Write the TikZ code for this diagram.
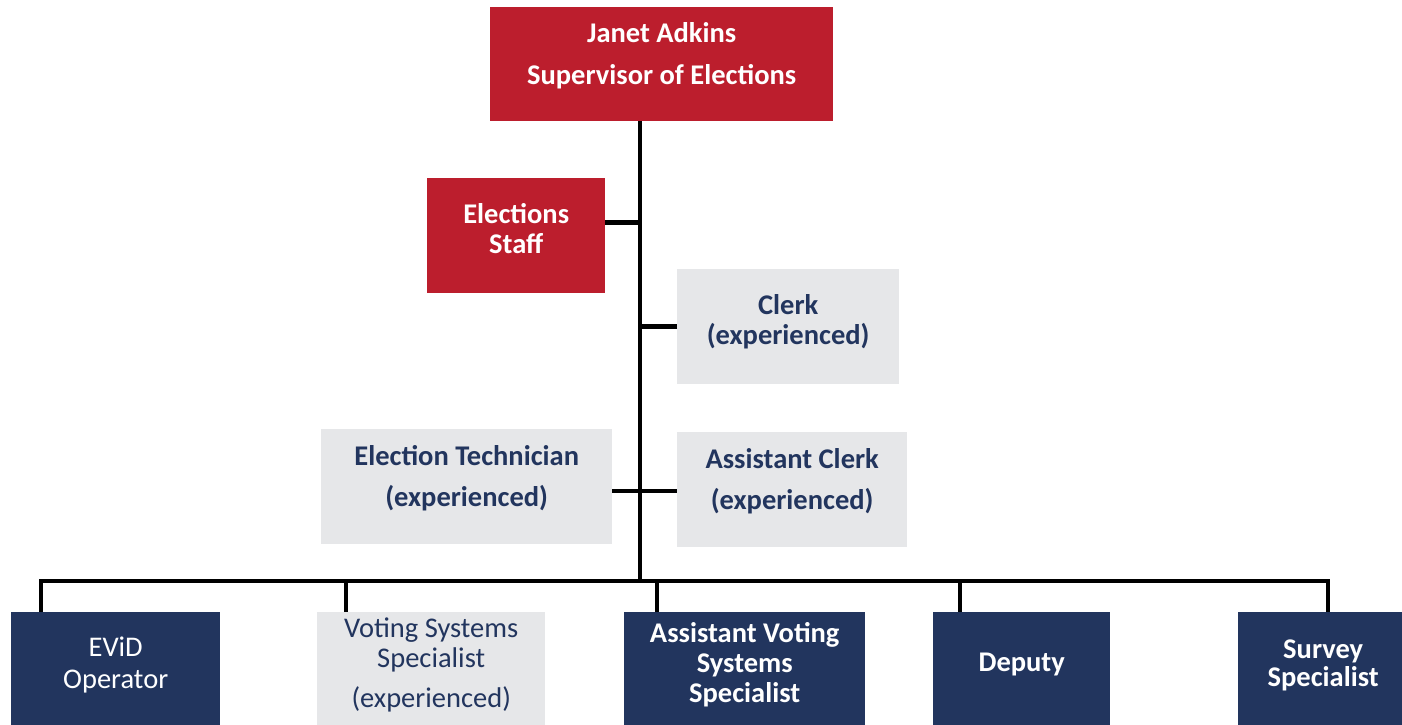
\documentclass[tikz,border=0pt]{standalone}
\usepackage{fontspec}
\setmainfont{Carlito}
\usetikzlibrary{positioning}
\definecolor{supred}{HTML}{BC1E2D}
\definecolor{staffnavy}{HTML}{22355E}
\definecolor{staffgray}{HTML}{E6E7E9}

\begin{document}
\begin{tikzpicture}[x=1pt,y=-1pt]
        \tikzset{box/.style={rectangle, anchor=north west, align=center, inner sep=0pt,
                font=\fontsize{28.5}{30}\selectfont\bfseries, text depth=14pt, minimum height=115pt},
        redbox/.style={box, fill=supred, text=white},
        graybox/.style={box, fill=staffgray, text=staffnavy},
        navybox/.style={box, fill=staffnavy, text=white},
        plain/.style={font=\fontsize{28.5}{30}\selectfont},
        lifted/.style={text depth=22pt},
        wire/.style={line width=4.5pt, line join=miter}
        }
        \clip (0,0) rectangle (1402,725);
%% top and middle
        \node [redbox, lifted, minimum width=343pt, minimum height=114pt] (sup) at (490,7) {Janet Adkins\\[12pt]Supervisor of Elections};
        \node [redbox, minimum width=178pt] (staff) at (427,178) {Elections\\Staff};
        \node [graybox, minimum width=222pt] (clerk) at (677,269) {Clerk\\(experienced)};
        \node [graybox, lifted, minimum width=291pt] (tech) at (321,429) {Election Technician\\[11pt](experienced)};
        \node [graybox, lifted, minimum width=230pt] (aclerk) at (677,432) {Assistant Clerk\\[11pt](experienced)};
%% bottom row
        \node [navybox, plain, minimum width=209pt] (evid) at (11,612) {EViD\\[2pt]Operator};
        \node [graybox, plain, minimum width=228pt] (vss) at (317,612) {Voting Systems\\Specialist\\[10pt](experienced)};
        \node [navybox, minimum width=241pt] (avss) at (624,612) {Assistant Voting\\Systems\\Specialist};
        \node [navybox, minimum width=177pt] (deputy) at (933,612) {Deputy};
        \node [navybox, minimum width=170pt] (survey) at (1238,612) {Survey\\[-2pt]Specialist};
%% paths
        \coordinate (hub) at (640,581);
        \draw [wire] (sup.south -| hub) -- (hub);
        \draw [wire] ([yshift=13pt]staff.east) -- ([yshift=13pt]staff.east -| hub);
        \draw [wire] (clerk.west) -- (clerk.west -| hub);
        \draw [wire] ([yshift=-4.5pt]tech.east) -- ([yshift=-4.5pt]tech.east -| aclerk.west);
        \draw [wire] ([xshift=30pt]evid.north west) |- ([xshift=90pt]survey.north west |- hub)
                    -- ([xshift=90pt]survey.north west);
        \foreach \n/\dx in {vss/29, avss/33, deputy/27}
            \draw [wire] ([xshift=\dx pt]\n.north west) -- ([xshift=\dx pt]\n.north west |- hub);
\end{tikzpicture}
\end{document}
